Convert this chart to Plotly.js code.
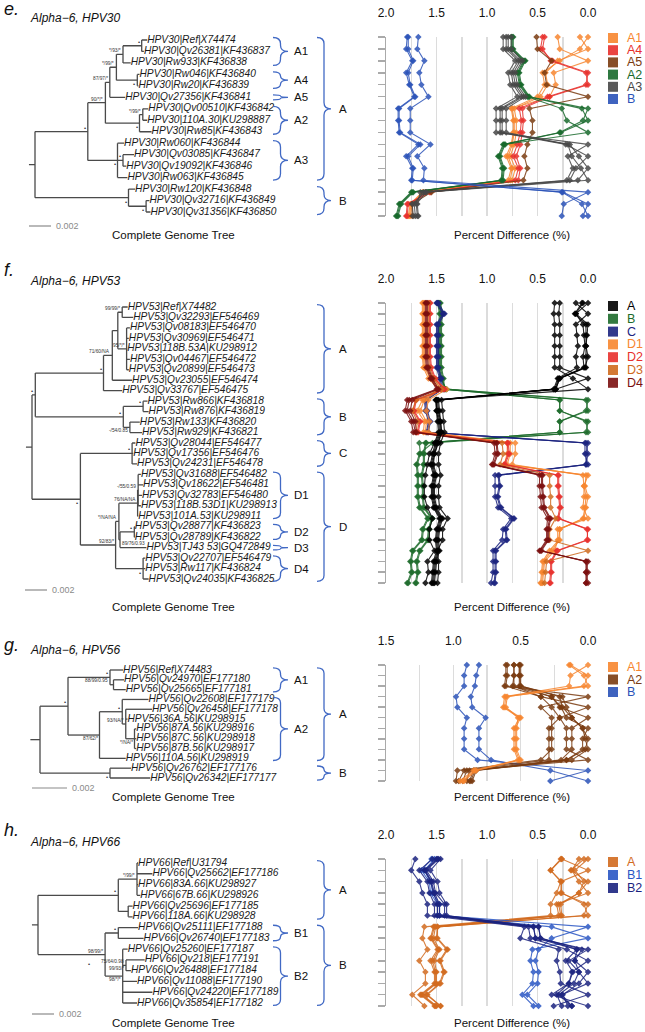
<!DOCTYPE html>
<html><head><meta charset="utf-8">
<script src="https://cdn.plot.ly/plotly-3.0.1.min.js"></script>
<style>body{margin:0;background:#fff}#chart{width:645px;height:1032px}</style>
</head><body><div id="chart"></div>
<script>
// ======================= DATA =======================
// Branch lengths are in units of 1e-4 substitutions/site; scale bar = 0.002
const TREE_UNIT = 1e-4, SCALE_LEN = 0.002;

// ---------- e. HPV30 ----------
const e_title = 'Alpha\u22126, HPV30';
const e_labels = ['HPV30|Ref|X74474','HPV30|Qv26381|KF436837','HPV30|Rw933|KF436838','HPV30|Rw046|KF436840','HPV30|Rw20|KF436839','HPV30|Qv27356|KF436841','HPV30|Qv00510|KF436842','HPV30|110A.30|KU298887','HPV30|Rw85|KF436843','HPV30|Rw060|KF436844','HPV30|Qv03085|KF436847','HPV30|Qv19092|KF436846','HPV30|Rw063|KF436845','HPV30|Rw120|KF436848','HPV30|Qv32716|KF436849','HPV30|Qv31356|KF436850'];
const e_legend = ['A1','A4','A5','A2','A3','B'];
const e_subclades = [['A1',1,3],['A4',4,5],['A5',6,6],['A2',7,9],['A3',10,13]];
const e_clades = [['A',1,13],['B',14,16]];
const e_A1_Ref     = [0,0.08,0.28,0.45,0.43,0.50,0.76,0.74,0.74,0.76,0.81,0.76,0.79,1.64,1.76,1.78];
const e_A1_Qv26381 = [0.08,0,0.30,0.42,0.40,0.47,0.73,0.71,0.71,0.73,0.77,0.72,0.75,1.61,1.74,1.76];
const e_A1_Rw933   = [0.30,0.28,0,0.34,0.32,0.38,0.75,0.73,0.73,0.75,0.79,0.75,0.77,1.63,1.75,1.77];
const e_A4_Rw046   = [0.45,0.47,0.35,0,0.02,0.40,0.68,0.66,0.67,0.70,0.74,0.69,0.72,1.57,1.79,1.80];
const e_A4_Rw20    = [0.43,0.45,0.37,0.02,0,0.38,0.65,0.64,0.65,0.67,0.71,0.67,0.69,1.56,1.78,1.79];
const e_A5_Qv27356 = [0.51,0.50,0.36,0.43,0.41,0,0.58,0.55,0.55,0.60,0.63,0.60,0.64,1.55,1.74,1.74];
const e_A2_Qv00510 = [0.74,0.74,0.62,0.68,0.66,0.58,0,0.05,0.28,0.84,0.89,0.85,0.86,1.75,1.87,1.90];
const e_A2_110A    = [0.75,0.75,0.63,0.69,0.67,0.59,0.06,0,0.27,0.83,0.88,0.84,0.85,1.74,1.86,1.89];
const e_A2_Rw85    = [0.76,0.76,0.64,0.70,0.68,0.60,0.26,0.21,0,0.82,0.87,0.83,0.84,1.73,1.85,1.88];
const e_A3_Rw060   = [0.84,0.84,0.72,0.79,0.77,0.70,0.91,0.91,0.91,0,0.20,0.15,0.21,1.66,1.69,1.68];
const e_A3_Qv03085 = [0.81,0.81,0.69,0.76,0.74,0.66,0.87,0.87,0.87,0.22,0,0.12,0.18,1.61,1.74,1.73];
const e_A3_Qv19092 = [0.79,0.79,0.67,0.74,0.72,0.64,0.85,0.85,0.85,0.18,0.09,0,0.10,1.63,1.72,1.71];
const e_A3_Rw063   = [0.76,0.76,0.65,0.72,0.70,0.62,0.81,0.81,0.81,0.20,0.16,0.07,0,1.60,1.70,1.69];
const e_B_Rw120    = [1.68,1.69,1.62,1.67,1.65,1.58,1.76,1.76,1.76,1.56,1.69,1.62,1.63,0,0.24,0.26];
const e_B_Qv32716  = [1.79,1.80,1.74,1.80,1.77,1.72,1.88,1.88,1.87,1.68,1.80,1.74,1.75,0.25,0,0.05];
const e_B_Qv31356  = [1.78,1.78,1.73,1.78,1.76,1.71,1.87,1.87,1.86,1.66,1.78,1.73,1.74,0.26,0.06,0];
const e_lines = [['A1',e_A1_Ref],['A1',e_A1_Qv26381],['A1',e_A1_Rw933],['A4',e_A4_Rw046],['A4',e_A4_Rw20],['A5',e_A5_Qv27356],['A2',e_A2_Qv00510],['A2',e_A2_110A],['A2',e_A2_Rw85],['A3',e_A3_Rw060],['A3',e_A3_Qv03085],['A3',e_A3_Qv19092],['A3',e_A3_Rw063],['B',e_B_Rw120],['B',e_B_Qv32716],['B',e_B_Qv31356]];
const e_tree = {l:0, c:[
  {l:48, s:'\u2022', c:[
    {l:16, s:'90/*/*', c:[
      {l:4, s:'87/97/*', c:[
        {l:6, s:'*/99/*', c:[
          {l:6, s:'*/93/*', c:[{l:17, s:'\u2022', c:[5,2]}, 7]},
          {l:19, b:'\u2022', c:[2,1]}]},
        14]},
      {l:31, b:'\u2022', c:[{l:3, s:'*/99/*', c:[5,4]}, 11]}]},
    {l:27, b:'\u2022', c:[6, {l:5, s:'\u2022', c:[10,3]}, 9]}]},
  {l:85, b:'\u2022', c:[6, {l:16, b:'\u2022', c:[3,4]}]}]};

// ---------- f. HPV53 ----------
const f_title = 'Alpha\u22126, HPV53';
const f_labels = ['HPV53|Ref|X74482','HPV53|Qv32293|EF546469','HPV53|Qv08183|EF546470','HPV53|Qv30969|EF546471','HPV53|118B.53A|KU298912','HPV53|Qv04467|EF546472','HPV53|Qv20899|EF546473','HPV53|Qv23055|EF546474','HPV53|Qv33767|EF546475','HPV53|Rw866|KF436818','HPV53|Rw876|KF436819','HPV53|Rw133|KF436820','HPV53|Rw929|KF436821','HPV53|Qv28044|EF546477','HPV53|Qv17356|EF546476','HPV53|Qv24231|EF546478','HPV53|Qv31688|EF546482','HPV53|Qv18622|EF546481','HPV53|Qv32783|EF546480','HPV53|118B.53D1|KU298913','HPV53|101A.53|KU298911','HPV53|Qv28877|KF436823','HPV53|Qv28789|KF436822','HPV53|TJ43 53|GQ472849','HPV53|Qv22707|EF546479','HPV53|Rw117|KF436824','HPV53|Qv24035|KF436825'];
const f_legend = ['A','B','C','D1','D2','D3','D4'];
const f_subclades = [['D1',17,21],['D2',22,23],['D3',24,24],['D4',25,27]];
const f_clades = [['A',1,9],['B',10,13],['C',14,16],['D',17,27]];
const f_A_Ref     = [0,0.12,0.05,0.04,0.03,0.05,0.04,0.29,0.33,1.50,1.49,1.47,1.46,1.50,1.53,1.55,1.52,1.54,1.54,1.52,1.46,1.49,1.50,1.49,1.52,1.53,1.54];
const f_A_Qv32293 = [0.12,0,0.12,0.11,0.10,0.12,0.11,0.30,0.34,1.51,1.50,1.48,1.47,1.51,1.54,1.56,1.53,1.55,1.55,1.53,1.47,1.50,1.51,1.50,1.53,1.54,1.55];
const f_A_Qv08183 = [0.05,0.12,0,0.01,0.02,0.02,0.02,0.28,0.32,1.49,1.48,1.46,1.45,1.49,1.52,1.54,1.51,1.53,1.53,1.51,1.45,1.48,1.49,1.48,1.51,1.52,1.53];
const f_A_Qv04467 = [0.06,0.13,0.02,0.02,0.02,0,0.03,0.28,0.32,1.48,1.47,1.46,1.45,1.48,1.52,1.53,1.50,1.52,1.52,1.50,1.44,1.47,1.48,1.47,1.50,1.51,1.52];
const f_A_Qv23055 = [0.28,0.29,0.28,0.28,0.28,0.28,0.28,0,0.32,1.45,1.44,1.43,1.42,1.46,1.48,1.48,1.46,1.48,1.48,1.47,1.39,1.44,1.44,1.49,1.48,1.48,1.49];
const f_A_Qv33767 = [0.33,0.34,0.33,0.33,0.33,0.33,0.33,0.15,0,1.50,1.50,1.49,1.48,1.52,1.57,1.59,1.61,1.62,1.62,1.59,1.54,1.57,1.57,1.52,1.59,1.58,1.61];
const f_B_Rw866 = [1.49,1.47,1.48,1.48,1.48,1.48,1.48,1.46,1.40,0,0.02,0.28,0.28,1.60,1.62,1.62,1.64,1.63,1.63,1.62,1.54,1.57,1.58,1.66,1.69,1.68,1.70];
const f_B_Rw876 = [1.48,1.46,1.47,1.47,1.47,1.47,1.47,1.45,1.41,0.02,0,0.28,0.28,1.61,1.63,1.63,1.65,1.64,1.64,1.63,1.55,1.58,1.59,1.67,1.70,1.69,1.71];
const f_B_Rw133 = [1.47,1.45,1.46,1.46,1.46,1.46,1.46,1.44,1.43,0.28,0.28,0,0.02,1.54,1.67,1.70,1.69,1.69,1.69,1.67,1.59,1.64,1.65,1.74,1.76,1.75,1.79];
const f_B_Rw929 = [1.46,1.44,1.45,1.45,1.45,1.45,1.45,1.43,1.42,0.28,0.28,0.02,0,1.67,1.66,1.69,1.68,1.68,1.68,1.66,1.58,1.63,1.64,1.73,1.75,1.74,1.78];
const f_C_Qv28044 = [1.50,1.44,1.50,1.50,1.50,1.50,1.50,1.47,1.46,1.62,1.61,1.58,1.60,0,0.02,0.02,0.92,0.92,0.92,0.89,0.76,0.84,0.85,0.94,0.94,0.94,0.96];
const f_C_Qv17356 = [1.49,1.43,1.49,1.49,1.49,1.49,1.49,1.46,1.45,1.61,1.60,1.57,1.59,0.02,0,0.02,0.88,0.87,0.89,0.86,0.73,0.81,0.80,0.91,0.91,0.91,0.92];
const f_C_Qv24231 = [1.48,1.42,1.48,1.48,1.48,1.48,1.48,1.45,1.44,1.60,1.59,1.56,1.58,0.03,0.03,0,0.89,0.88,0.90,0.87,0.74,0.82,0.81,0.92,0.92,0.92,0.93];
const f_D1_Qv31688 = [1.64,1.64,1.64,1.64,1.64,1.64,1.63,1.58,1.48,1.64,1.69,1.62,1.63,0.80,0.80,0.83,0,0.04,0.02,0.03,0.05,0.28,0.29,0.38,0.45,0.46,0.47];
const f_D1_Qv32783 = [1.63,1.63,1.63,1.63,1.63,1.63,1.62,1.56,1.45,1.62,1.66,1.60,1.61,0.77,0.77,0.80,0.02,0.03,0,0.02,0.04,0.28,0.28,0.36,0.44,0.45,0.46];
const f_D1_101A    = [1.62,1.62,1.62,1.62,1.62,1.62,1.61,1.53,1.40,1.58,1.60,1.57,1.58,0.72,0.72,0.75,0.05,0.04,0.04,0.05,0,0.30,0.30,0.33,0.43,0.44,0.45];
const f_D2_Qv28877 = [1.57,1.57,1.57,1.57,1.57,1.57,1.56,1.52,1.43,1.71,1.73,1.67,1.69,0.80,0.79,0.83,0.30,0.30,0.29,0.28,0.30,0,0.01,0.31,0.37,0.37,0.38];
const f_D2_Qv28789 = [1.56,1.56,1.56,1.56,1.56,1.56,1.55,1.51,1.42,1.70,1.72,1.66,1.68,0.79,0.78,0.82,0.29,0.29,0.28,0.27,0.29,0.01,0,0.30,0.36,0.36,0.37];
const f_D3_TJ43    = [1.58,1.58,1.58,1.58,1.58,1.58,1.57,1.53,1.45,1.70,1.74,1.69,1.70,0.85,0.84,0.87,0.38,0.38,0.37,0.37,0.32,0.38,0.38,0,0.41,0.42,0.43];
const f_D4_Qv22707 = [1.61,1.61,1.61,1.61,1.61,1.61,1.60,1.56,1.50,1.79,1.81,1.75,1.73,0.93,0.92,0.95,0.48,0.48,0.47,0.46,0.40,0.41,0.41,0.48,0,0.02,0.02];
const f_D4_Rw117   = [1.60,1.60,1.60,1.60,1.60,1.60,1.59,1.55,1.49,1.77,1.79,1.73,1.71,0.91,0.90,0.94,0.46,0.46,0.45,0.44,0.38,0.40,0.40,0.47,0.02,0,0.02];
const f_D4_Qv24035 = [1.59,1.59,1.59,1.59,1.59,1.59,1.58,1.54,1.48,1.74,1.76,1.71,1.70,0.90,0.89,0.93,0.45,0.45,0.44,0.43,0.37,0.39,0.39,0.46,0.02,0.02,0];
const f_lines = [['B',f_B_Rw866],['B',f_B_Rw876],['B',f_B_Rw133],['B',f_B_Rw929],['C',f_C_Qv28044],['C',f_C_Qv17356],['C',f_C_Qv24231],['D1',f_D1_Qv31688],['D1',f_D1_Qv32783],['D1',f_D1_101A],['D2',f_D2_Qv28877],['D2',f_D2_Qv28789],['D3',f_D3_TJ43],['D4',f_D4_Qv22707],['D4',f_D4_Rw117],['D4',f_D4_Qv24035],['A',f_A_Ref],['A',f_A_Qv32293],['A',f_A_Qv08183],['A',f_A_Qv04467],['A',f_A_Qv23055],['A',f_A_Qv33767]];
const f_tree = {l:0, c:[
  {l:3, s:'\u2022', c:[
    {l:62, s:'\u2022', c:[
      {l:8, s:'71/60/NA', c:[
        {l:5, c:[{l:4, s:'99/99/*', c:[5,10]}, {l:8, s:'95/*/*', c:[3,2,0.5,3,2]}]},
        18]},
      17]},
    {l:80, s:'\u2022', c:[{l:18, s:'\u2022', c:[4,5]}, {l:6, b:'-/54/0.85', c:[9,11]}]}]},
  {l:44, b:'\u2022', c:[
    {l:47, s:'\u2022', c:[3,1,4.5]},
    {l:32, s:'92/83/*', c:[
      {l:3, s:'*/NA/NA', c:[
        {l:17, s:'76/NA/NA', c:[{l:0.5, s:'-/55/0.59', c:[2.5,4.5,3.5,2.5]}, 0.5]},
        {l:1, r:'89/76/0.93', c:[{l:13, s:'\u2022', c:[0.5,0.5]}, 24]}]},
      {l:25, b:'\u2022', c:[2,2,5]}]}]}]};

// ---------- g. HPV56 ----------
const g_title = 'Alpha\u22126, HPV56';
const g_labels = ['HPV56|Ref|X74483','HPV56|Qv24970|EF177180','HPV56|Qv25665|EF177181','HPV56|Qv22608|EF177179','HPV56|Qv26458|EF177178','HPV56|36A.56|KU298915','HPV56|87A.56|KU298916','HPV56|87C.56|KU298918','HPV56|87B.56|KU298917','HPV56|110A.56|KU298919','HPV56|Qv26762|EF177176','HPV56|Qv26342|EF177177'];
const g_legend = ['A1','A2','B'];
const g_subclades = [['A1',1,3],['A2',4,10]];
const g_clades = [['A',1,10],['B',11,12]];
const g_A1_Ref     = [0,0.13,0.14,0.62,0.63,0.51,0.55,0.55,0.55,0.52,0.85,0.95];
const g_A1_Qv24970 = [0.13,0,0.03,0.61,0.62,0.50,0.54,0.54,0.54,0.51,0.84,0.93];
const g_A1_Qv25665 = [0.14,0.03,0,0.60,0.61,0.52,0.53,0.53,0.53,0.50,0.83,0.92];
const g_A2_Qv22608 = [0.61,0.61,0.62,0,0.35,0.27,0.27,0.27,0.27,0.35,0.97,0.98];
const g_A2_Qv26458 = [0.60,0.60,0.61,0.35,0,0.21,0.29,0.29,0.29,0.29,0.92,0.96];
const g_A2_36A     = [0.55,0.55,0.56,0.27,0.21,0,0.12,0.12,0.12,0.20,0.88,0.90];
const g_A2_87A     = [0.51,0.51,0.51,0.27,0.20,0.16,0,0.04,0.04,0.16,0.85,0.88];
const g_A2_87C     = [0.51,0.51,0.50,0.21,0.19,0.12,0.04,0,0.02,0.16,0.84,0.87];
const g_A2_87B     = [0.50,0.50,0.50,0.19,0.16,0.12,0.04,0.02,0,0.12,0.83,0.86];
const g_A2_110A    = [0.55,0.55,0.55,0.35,0.27,0.21,0.16,0.16,0.16,0,0.90,0.93];
const g_B_Qv26762  = [0.90,0.92,0.92,0.98,0.97,0.90,0.92,0.92,0.92,0.82,0,0.28];
const g_B_Qv26342  = [0.81,0.83,0.84,0.87,0.86,0.76,0.81,0.81,0.81,0.72,0.28,0];
const g_lines = [['B',g_B_Qv26762],['B',g_B_Qv26342],['A2',g_A2_Qv22608],['A2',g_A2_Qv26458],['A2',g_A2_36A],['A2',g_A2_87A],['A2',g_A2_87C],['A2',g_A2_87B],['A2',g_A2_110A],['A1',g_A1_Ref],['A1',g_A1_Qv24970],['A1',g_A1_Qv25665]];
const g_tree = {l:0, c:[
  {l:16, s:'\u2022', c:[
    {l:24, s:'\u2022', b:'88/99/0.95', c:[7.5, {l:2, c:[6,7]}]},
    {l:18, b:'87/62/*', c:[
      {l:13, s:'\u2022', c:[15, {l:2, s:'93/NA/*', c:[15, 1, {l:5, b:'*/NA/*', c:[1,1,1]}]}]},
      15]}]},
  {l:40, b:'\u2022', c:[12,23]}]};

// ---------- h. HPV66 ----------
const h_title = 'Alpha\u22126, HPV66';
const h_labels = ['HPV66|Ref|U31794','HPV66|Qv25662|EF177186','HPV66|83A.66|KU298927','HPV66|67B.66|KU298926','HPV66|Qv25696|EF177185','HPV66|118A.66|KU298928','HPV66|Qv25111|EF177188','HPV66|Qv26740|EF177183','HPV66|Qv25260|EF177187','HPV66|Qv218|EF177191','HPV66|Qv26488|EF177184','HPV66|Qv11088|EF177190','HPV66|Qv24220|EF177189','HPV66|Qv35854|EF177182'];
const h_legend = ['A','B1','B2'];
const h_subclades = [['B1',7,8],['B2',9,14]];
const h_clades = [['A',1,6],['B',7,14]];
const h_A_Ref     = [0,0.13,0.04,0.09,0.29,0.27,1.52,1.55,1.48,1.54,1.51,1.51,1.65,1.51];
const h_A_Qv25662 = [0.26,0,0.27,0.31,0.37,0.37,1.62,1.64,1.59,1.67,1.61,1.61,1.74,1.62];
const h_A_83A     = [0.04,0.17,0,0.09,0.27,0.26,1.51,1.53,1.47,1.52,1.50,1.50,1.64,1.50];
const h_A_67B     = [0.09,0.16,0.09,0,0.31,0.29,1.53,1.56,1.49,1.56,1.52,1.52,1.66,1.52];
const h_A_Qv25696 = [0.27,0.37,0.26,0.27,0,0.04,1.49,1.50,1.40,1.47,1.43,1.47,1.60,1.46];
const h_A_118A    = [0.26,0.37,0.27,0.26,0.04,0,1.49,1.49,1.39,1.46,1.42,1.46,1.59,1.46];
const h_B1_Qv25111 = [1.52,1.62,1.55,1.54,1.47,1.47,0,0.36,0.49,0.52,0.49,0.50,0.60,0.49];
const h_B1_Qv26740 = [1.55,1.65,1.57,1.56,1.49,1.49,0.36,0,0.55,0.57,0.54,0.55,0.65,0.54];
const h_B2_Qv25260 = [1.50,1.62,1.56,1.53,1.49,1.49,0.54,0.52,0,0.19,0.09,0.14,0.29,0.16];
const h_B2_Qv218   = [1.54,1.67,1.59,1.57,1.52,1.52,0.59,0.57,0.21,0,0.16,0.19,0.31,0.26];
const h_B2_Qv26488 = [1.49,1.61,1.55,1.52,1.47,1.47,0.54,0.52,0.11,0.13,0,0.09,0.25,0.20];
const h_B2_Qv11088 = [1.48,1.60,1.53,1.51,1.42,1.42,0.49,0.47,0.06,0.13,0.09,0,0.26,0.16];
const h_B2_Qv24220 = [1.71,1.75,1.67,1.64,1.59,1.59,0.63,0.67,0.29,0.31,0.28,0.27,0,0.34];
const h_B2_Qv35854 = [1.46,1.56,1.49,1.47,1.40,1.40,0.49,0.47,0.11,0.22,0.15,0.19,0.36,0];
const h_lines = [['A',h_A_Ref],['A',h_A_Qv25662],['A',h_A_83A],['A',h_A_67B],['A',h_A_Qv25696],['A',h_A_118A],['B1',h_B1_Qv25111],['B1',h_B1_Qv26740],['B2',h_B2_Qv25260],['B2',h_B2_Qv218],['B2',h_B2_Qv26488],['B2',h_B2_Qv11088],['B2',h_B2_Qv24220],['B2',h_B2_Qv35854]];
const h_tree = {l:0, c:[
  {l:73, s:'\u2022', c:[{l:17, s:'*/99/*', c:[1,14,1,3]}, {l:9, c:[4,4]}]},
  {l:61, s:'98/99/*', L:'\u2022', c:[
    {l:12, s:'\u2022', c:[18,23]},
    {l:16, b:'98/*/*', c:[4.5, {l:3, s:'75/64/0.98', b:'99/93/*', c:[17,4.5]}, 13, 27, 13]}]}]};

// ======================= STYLES =======================
const FONT = 'Liberation Sans, Arial, Helvetica, sans-serif';
const e_colors = {A1:'#f7862f', A4:'#e8302c', A5:'#7a3b10', A2:'#17692b', A3:'#474747', B:'#2a52b8'};
const f_colors = {A:'#000000', B:'#1d6b2b', C:'#1b237f', D1:'#f7862f', D2:'#e8302c', D3:'#cf6a1e', D4:'#7b0f0f'};
const g_colors = {A1:'#f7862f', A2:'#7a3b10', B:'#2a52b8'};
const h_colors = {A:'#d26a1e', B1:'#2a56c4', B2:'#1b237f'};
const BRACE = '#4169c4', TREE_LINE = '#4a4a4a', GRID = '#dcdcdc', AXIS = '#aaaaaa';

// ======================= POSITIONS (px) =======================
const W = 645, H = 1032;
const POS = {
  e:{letterY:9, titleY:18, treeTop:40, treeBot:212, plotTop:37, plotBot:216, rootPx:35, ppu:1.1, scaleX0:29, scaleY:226, footY:235, legTop:38, legStep:12.2},
  f:{letterY:270, titleY:281, treeTop:307, treeBot:579, plotTop:303, plotBot:583, rootPx:32, ppu:1.1, scaleX0:25, scaleY:590, footY:607, legTop:306, legStep:12.8},
  g:{letterY:645, titleY:650, treeTop:670, treeBot:778, plotTop:665, plotBot:781, rootPx:40, ppu:1.75, scaleX0:32, scaleY:788, footY:797, legTop:667, legStep:12.5},
  h:{letterY:830, titleY:842, treeTop:863, treeBot:1003, plotTop:859, plotBot:1006, rootPx:38, ppu:1.1, scaleX0:32, scaleY:1014, footY:1023, legTop:862, legStep:13}
};
// support-label placement: s = above-left of node, b = below-left, r = below-right, L = further below-left
const SUP_PLACE = {s:{xa:'right', ya:'bottom', dx:-1, dy:0}, b:{xa:'right', ya:'top', dx:-1, dy:0},
  r:{xa:'left', ya:'top', dx:1, dy:0}, L:{xa:'right', ya:'top', dx:-14, dy:-5}};

// ======================= BUILD =======================
const PX = x => x / W, PY = y => 1 - y / H;
const traces = [], shapes = [], annotations = [];
const layout = {width:W, height:H, margin:{l:0,r:0,t:0,b:0}, paper_bgcolor:'#fff', plot_bgcolor:'rgba(0,0,0,0)',
  showlegend:false, font:{family:FONT, color:'#111'}, shapes, annotations};
const sfx = n => n === 1 ? '' : String(n);

function bracePath(xl, w, r0, r1, ext) {
  const a = PX(xl), m = PX(xl + w/2), t = PX(xl + w);
  const y0 = r0 - ext, y1 = r1 + ext, ym = (y0 + y1)/2, r = Math.min(0.55, (y1 - y0)/4);
  return `M${a},${y0} Q${m},${y0} ${m},${y0+r} L${m},${ym-r} Q${m},${ym} ${t},${ym} Q${m},${ym} ${m},${ym+r} L${m},${y1-r} Q${m},${y1} ${a},${y1}`;
}

function addPanel(i, key, D) {
  const P = POS[key];
  const tN = 2*i + 1, pN = 2*i + 2;
  const tx = 'x'+sfx(tN), ty = 'y'+sfx(tN), qx = 'x'+sfx(pN), qy = 'y'+sfx(pN);
  const n = D.labels.length;
  const rows = D.labels.map((_, k) => k + 1);
  // ---- tree axes
  const s = (P.treeBot - P.treeTop) / (n - 1);
  layout['xaxis'+sfx(tN)] = {domain:[0, PX(330)], range:[-P.rootPx/P.ppu, (330-P.rootPx)/P.ppu], visible:false, anchor:ty, fixedrange:true};
  layout['yaxis'+sfx(tN)] = {domain:[PY(P.treeBot + s/2), PY(P.treeTop - s/2)], range:[n + 0.5, 0.5], visible:false, anchor:tx, fixedrange:true};
  // ---- tree geometry
  const X = [], Y = [], lx = [], ly = [];
  let row = 0;
  function walk(node, x0) {
    if (typeof node === 'number') {
      row += 1; const x = x0 + node;
      X.push(x0, x, null); Y.push(row, row, null);
      lx.push(x); ly.push(row); return row;
    }
    const x = x0 + node.l;
    const ys = node.c.map(ch => walk(ch, x));
    const y = (ys[0] + ys[ys.length-1]) / 2;
    X.push(x, x, null); Y.push(ys[0], ys[ys.length-1], null);
    X.push(x0, x, null); Y.push(y, y, null);
    Object.keys(SUP_PLACE).forEach(k => {
      if (!node[k]) return;
      const sp = SUP_PLACE[k];
      annotations.push({xref:tx, yref:ty, x:x, y:y, xanchor:sp.xa, yanchor:sp.ya, xshift:sp.dx, yshift:sp.dy,
        showarrow:false, text:node[k], font:{size:node[k] === '\u2022' ? 6 : 4.8, color:'#333'}, borderpad:0});
    });
    return y;
  }
  const rootY = walk(D.tree, 0);
  X.push(-5.5, 0, null); Y.push(rootY, rootY, null);
  traces.push({type:'scatter', mode:'lines', x:X, y:Y, xaxis:tx, yaxis:ty, line:{color:TREE_LINE, width:1.3}, hoverinfo:'skip'});
  traces.push({type:'scatter', mode:'text', x:lx, y:ly, xaxis:tx, yaxis:ty, text:D.labels.map(t => '<i>'+t+'</i>'),
    textposition:'middle right', textfont:{family:FONT, size:10.2, color:'#1a1a1a'}, cliponaxis:false, hoverinfo:'skip'});
  // scale bar
  const sb0 = (P.scaleX0 - P.rootPx) / P.ppu, sb1 = sb0 + SCALE_LEN / TREE_UNIT;
  shapes.push({type:'line', xref:tx, yref:'paper', x0:sb0, x1:sb1, y0:PY(P.scaleY), y1:PY(P.scaleY), line:{color:'#8a8a8a', width:1.2}});
  annotations.push({xref:tx, yref:'paper', x:sb1, y:PY(P.scaleY), xanchor:'left', yanchor:'middle', xshift:3, showarrow:false,
    text:String(SCALE_LEN), font:{size:9, color:'#8a8a8a'}});
  // braces + clade labels
  D.subclades.forEach(([name, r0, r1]) => {
    shapes.push({type:'path', xref:'paper', yref:ty, path:bracePath(273, 15, r0, r1, 0.22), line:{color:BRACE, width:1.3}});
    annotations.push({xref:'paper', yref:ty, x:PX(292), y:(r0+r1)/2, xanchor:'left', yanchor:'middle', showarrow:false,
      text:name, font:{size:11.5, color:'#111'}});
  });
  D.clades.forEach(([name, r0, r1]) => {
    shapes.push({type:'path', xref:'paper', yref:ty, path:bracePath(317, 14, r0, r1, 0.22), line:{color:BRACE, width:1.3}});
    annotations.push({xref:'paper', yref:ty, x:PX(337), y:(r0+r1)/2, xanchor:'left', yanchor:'middle', showarrow:false,
      text:name, font:{size:11.5, color:'#111'}});
  });
  // ---- percent-difference axes
  layout['xaxis'+sfx(pN)] = {domain:[PX(386), PX(588)], range:[D.xmax, 0], side:'top', anchor:qy, dtick:0.5, tick0:0,
    tickformat:'.1f', ticks:'', showline:false, zeroline:false, showgrid:true, gridcolor:GRID, gridwidth:1.5,
    minor:{dtick:0.25, tick0:0, showgrid:true, gridcolor:GRID, gridwidth:1.5, ticks:''},
    tickfont:{size:12, color:'#111'}, ticklabelstandoff:17, fixedrange:true};
  layout['yaxis'+sfx(pN)] = {domain:[PY(P.plotBot), PY(P.plotTop)], range:[n, 1], anchor:qx, showline:true, linecolor:AXIS,
    linewidth:1.5, ticks:'outside', ticklen:7, tickwidth:1.5, tickcolor:AXIS, tick0:1, dtick:1, showticklabels:false,
    showgrid:false, zeroline:false, fixedrange:true};
  D.lines.forEach(([grp, vals]) => {
    traces.push({type:'scatter', mode:'lines+markers', x:vals, y:rows, xaxis:qx, yaxis:qy, cliponaxis:false,
      line:{color:D.colors[grp], width:1.1}, marker:{symbol:'diamond', size:5, color:D.colors[grp]}, opacity:0.85, hoverinfo:'skip'});
  });
  // legend
  D.legend.forEach((grp, k) => {
    const cy = P.legTop + k * P.legStep;
    shapes.push({type:'rect', xref:'paper', yref:'paper', x0:PX(608), x1:PX(618), y0:PY(cy+5), y1:PY(cy-5),
      fillcolor:D.colors[grp], line:{width:0}, opacity:0.9});
    annotations.push({xref:'paper', yref:'paper', x:PX(625), y:PY(cy), xanchor:'left', yanchor:'middle', showarrow:false,
      text:grp, font:{size:12.5, color:D.colors[grp]}});
  });
  // texts
  annotations.push({xref:'paper', yref:'paper', x:PX(2), y:PY(P.letterY), xanchor:'left', yanchor:'middle', showarrow:false,
    text:'<i>'+key+'.</i>', font:{size:18, color:'#111'}});
  annotations.push({xref:'paper', yref:'paper', x:PX(28), y:PY(P.titleY), xanchor:'left', yanchor:'middle', showarrow:false,
    text:'<i>'+D.title+'</i>', font:{size:12, color:'#111'}});
  annotations.push({xref:'paper', yref:'paper', x:PX(173), y:PY(P.footY), xanchor:'center', yanchor:'middle', showarrow:false,
    text:'Complete Genome Tree', font:{size:11.5, color:'#111'}});
  annotations.push({xref:'paper', yref:'paper', x:PX(512), y:PY(P.footY), xanchor:'center', yanchor:'middle', showarrow:false,
    text:'Percent Difference (%)', font:{size:11.5, color:'#111'}});
}

addPanel(0, 'e', {title:e_title, labels:e_labels, lines:e_lines, colors:e_colors, legend:e_legend, subclades:e_subclades, clades:e_clades, tree:e_tree, xmax:2.0});
addPanel(1, 'f', {title:f_title, labels:f_labels, lines:f_lines, colors:f_colors, legend:f_legend, subclades:f_subclades, clades:f_clades, tree:f_tree, xmax:2.0});
addPanel(2, 'g', {title:g_title, labels:g_labels, lines:g_lines, colors:g_colors, legend:g_legend, subclades:g_subclades, clades:g_clades, tree:g_tree, xmax:1.5});
addPanel(3, 'h', {title:h_title, labels:h_labels, lines:h_lines, colors:h_colors, legend:h_legend, subclades:h_subclades, clades:h_clades, tree:h_tree, xmax:2.0});

Plotly.newPlot('chart', traces, layout, {staticPlot:true, displayModeBar:false});
</script></body></html>
